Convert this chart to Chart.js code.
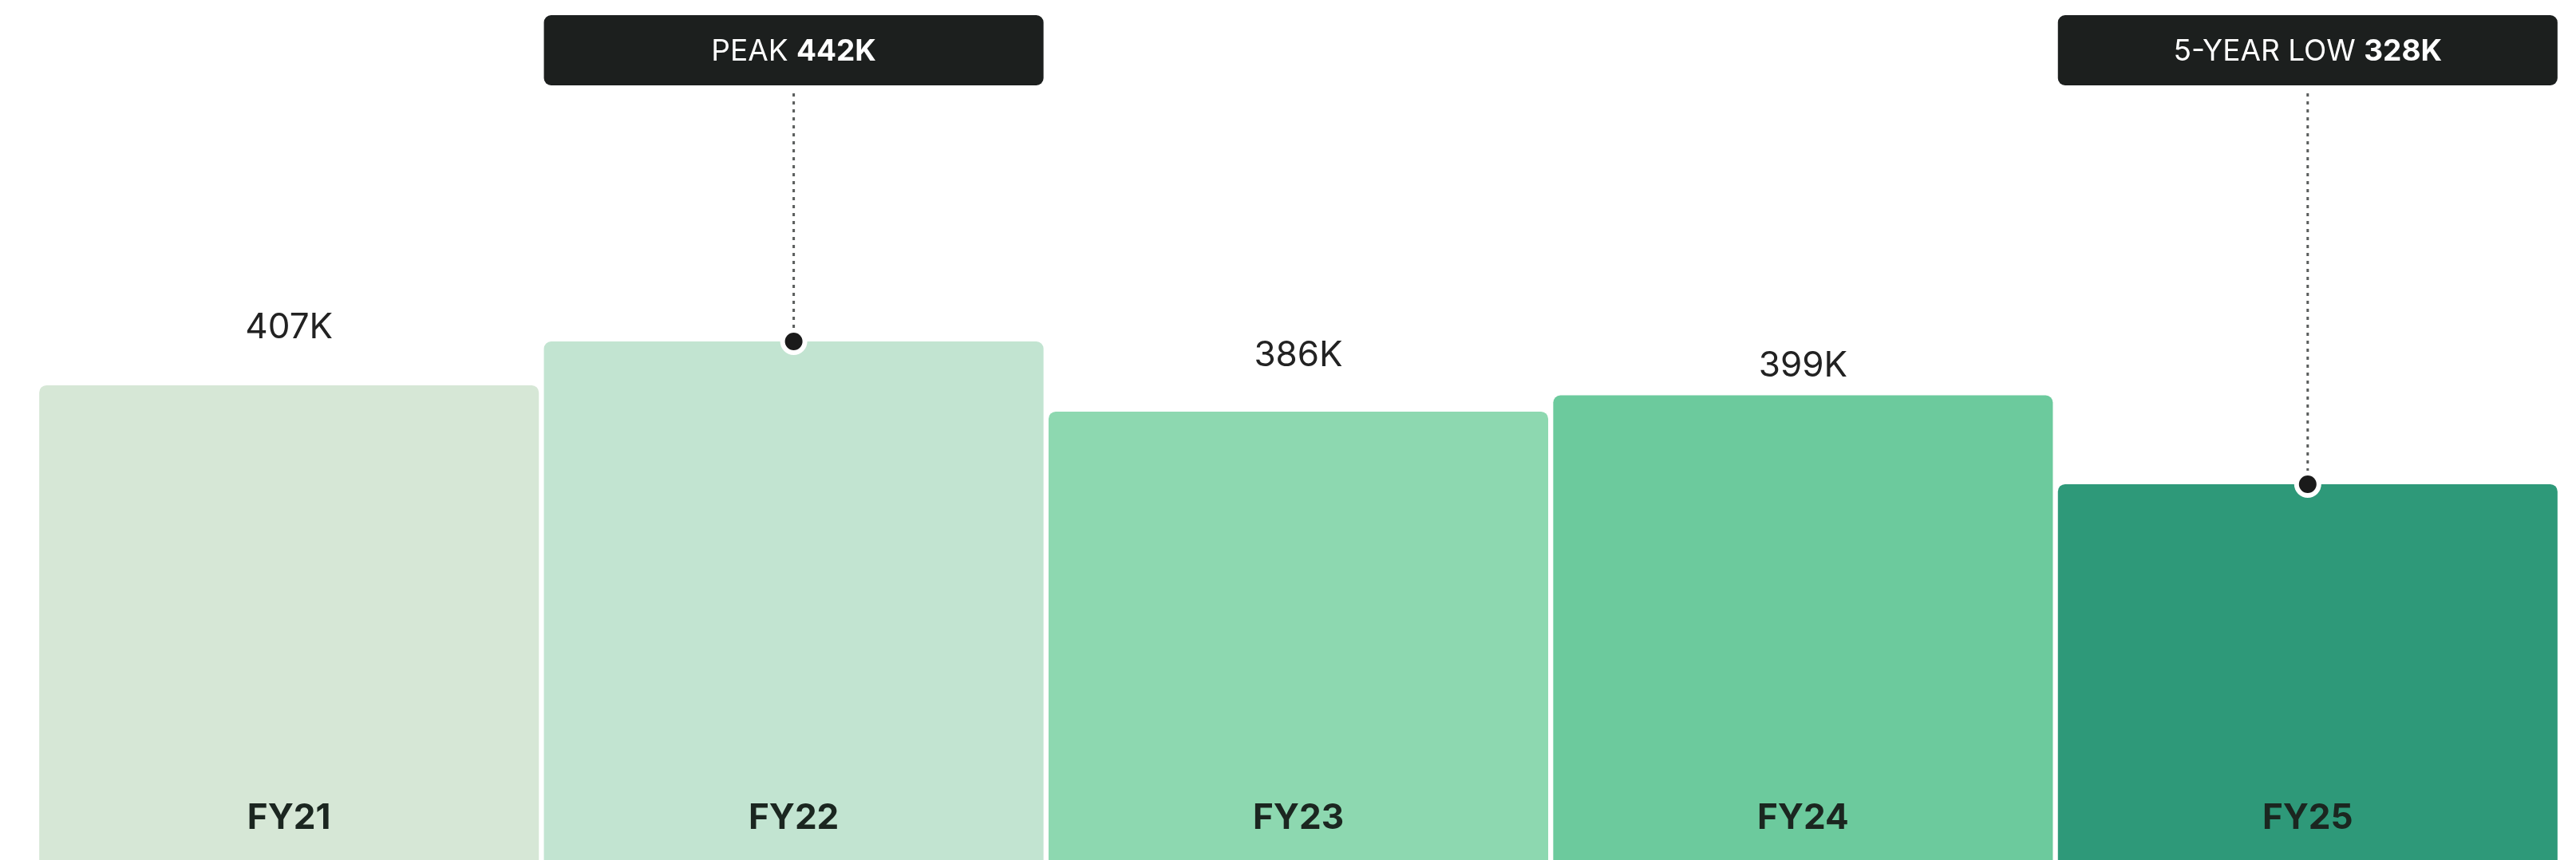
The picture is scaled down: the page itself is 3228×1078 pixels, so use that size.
<!DOCTYPE html>
<html>
<head>
<meta charset="utf-8">
<script src="https://cdn.jsdelivr.net/npm/chart.js@4.4.1/dist/chart.umd.min.js"></script>
<style>
  html, body { margin: 0; padding: 0; background: #ffffff; overflow: hidden; }
  #wrap { width: 3228px; height: 1078px; }
</style>
</head>
<body>
<div id="wrap"><canvas id="enrolment" width="3228" height="1078"></canvas></div>
<script>
const years = ['FY21', 'FY22', 'FY23', 'FY24', 'FY25'];
const totalsK = [407, 442, 386, 399, 328];
const barColors = ['#d6e7d6', '#c2e4d1', '#8dd8b0', '#6cca9d', '#2e9979'];

// callouts replace the plain value label on these bars
const peakIndex = 1;
const lowIndex = 4;
const calloutText = { 1: 'PEAK ', 4: '5-YEAR LOW ' };

// how far each plain value label sits above its bar
const labelLift = [72, 0, 70, 37, 0];

const fontFamily = 'Inter, "Noto Sans", sans-serif';

const barLabels = {
    id: 'barLabels',
    afterDatasetsDraw(chart) {
        const ctx = chart.ctx;
        const bars = chart.getDatasetMeta(0).data;
        const bottom = chart.chartArea.bottom;

        ctx.save();
        ctx.textAlign = 'center';
        ctx.textBaseline = 'middle';

        bars.forEach((bar, i) => {
            // year name inside the foot of the bar
            ctx.font = `700 44px ${fontFamily}`;
            ctx.fillStyle = '#1b2620';
            ctx.fillText(years[i], bar.x, bottom - 52);

            if (calloutText[i] === undefined) {
                ctx.font = `400 44px ${fontFamily}`;
                ctx.fillStyle = '#222222';
                ctx.fillText(totalsK[i] + 'K', bar.x, bar.y - labelLift[i]);
            }
        });

        [peakIndex, lowIndex].forEach(i => {
            const bar = bars[i];
            const left = bar.x - bar.width / 2;
            const boxTop = 19;
            const boxH = 88;

            ctx.fillStyle = '#1c1f1e';
            ctx.beginPath();
            ctx.roundRect(left, boxTop, bar.width, boxH, 9);
            ctx.fill();

            const prefix = calloutText[i];
            const value = totalsK[i] + 'K';
            ctx.font = `400 37px ${fontFamily}`;
            const wPrefix = ctx.measureText(prefix).width;
            ctx.font = `700 37px ${fontFamily}`;
            const wValue = ctx.measureText(value).width;
            let tx = bar.x - (wPrefix + wValue) / 2;
            ctx.textAlign = 'left';
            ctx.fillStyle = '#ffffff';
            ctx.font = `400 37px ${fontFamily}`;
            ctx.fillText(prefix, tx, boxTop + boxH / 2 + 2);
            ctx.font = `700 37px ${fontFamily}`;
            ctx.fillText(value, tx + wPrefix, boxTop + boxH / 2 + 2);
            ctx.textAlign = 'center';

            // dotted leader down to the bar top
            ctx.strokeStyle = '#5a5d5c';
            ctx.lineWidth = 3;
            ctx.setLineDash([4, 6]);
            ctx.beginPath();
            ctx.moveTo(bar.x, boxTop + boxH + 10);
            ctx.lineTo(bar.x, bar.y - 14);
            ctx.stroke();
            ctx.setLineDash([]);

            ctx.fillStyle = '#ffffff';
            ctx.beginPath();
            ctx.arc(bar.x, bar.y, 17, 0, Math.PI * 2);
            ctx.fill();
            ctx.fillStyle = '#1a1a1a';
            ctx.beginPath();
            ctx.arc(bar.x, bar.y, 11, 0, Math.PI * 2);
            ctx.fill();
        });
        ctx.restore();
    }
};

const ctxBars = document.getElementById('enrolment').getContext('2d');
const enrolmentChart = new Chart(ctxBars, {
    type: 'bar',
    data: {
        labels: years,
        datasets: [{
            data: totalsK,
            backgroundColor: barColors,
            borderRadius: 9,
            borderSkipped: 'start',
            barPercentage: 0.99,
            categoryPercentage: 1
        }]
    },
    options: {
        responsive: false,
        animation: false,
        layout: { padding: { left: 46, right: 20, top: 0, bottom: 0 } },
        plugins: {
            legend: { display: false },
            tooltip: { enabled: false }
        },
        scales: {
            x: { display: false },
            y: { display: false, min: 28, max: 714.6 }
        }
    },
    plugins: [barLabels]
});
</script>
</body>
</html>
